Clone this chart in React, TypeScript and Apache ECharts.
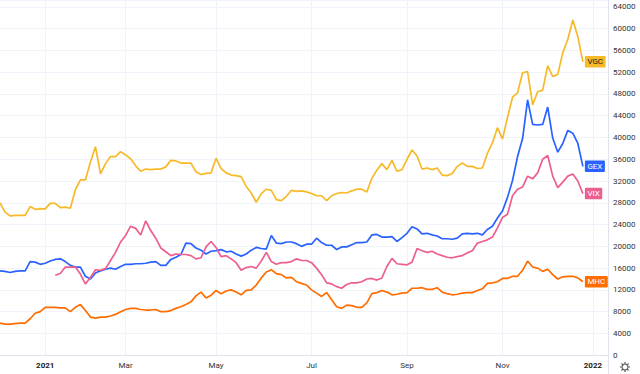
import React, { useEffect, useRef } from "react";
import * as echarts from "echarts";

// ---- data ----
const CATEGORY_COUNT = 122;
const tickIndex = [9, 25, 43, 62, 81, 100, 118];
const tickDates = ["2021-01-01", "2021-03-01", "2021-05-01", "2021-07-01", "2021-09-01", "2021-11-01", "2022-01-01"];
const tickLabels = ["2021", "Mar", "May", "Jul", "Sep", "Nov", "2022"];

const VGC = [28000,26300,25600,25700,25700,25700,27300,26800,26900,26900,
 27900,27900,27100,27200,27000,30400,32200,32200,35500,38300,
 33300,35200,36500,36500,37400,36800,36100,34800,33800,34200,
 34100,34200,34200,34600,35800,35700,35300,35300,35300,33700,
 33200,33400,33500,36200,34300,33500,33100,33000,32800,31000,
 29800,28100,29700,30500,30300,28600,28400,29200,30300,30100,
 30200,30000,29700,29300,29300,28400,29300,29700,29900,29800,
 30200,30500,30500,30000,32500,34000,35200,34100,35800,33800,
 34100,36000,37700,36600,34200,34400,34100,34400,33100,33000,
 33400,34700,35300,34700,34700,34300,34400,37100,39000,41800,
 39700,43700,47400,48200,51900,52100,46000,48400,48700,53200,
 51200,51600,55600,58000,61600,58500,53900];

const GEX = [15500,15400,15200,15400,15500,15500,17200,17100,16700,16900,
 17300,17600,17700,17200,16500,16200,16200,14500,14000,15100,
 15500,15800,16000,15800,16300,16700,16700,16800,16800,16900,
 17100,17200,16500,16500,17600,18000,18500,20600,20500,19700,
 19300,18600,19100,19200,19400,19000,19100,18600,18200,18600,
 19300,19800,19600,19500,22000,20600,20500,20800,20800,20500,
 20000,20400,20400,21500,20700,20200,20200,19400,19900,19900,
 20300,20700,20700,20800,22100,22200,21700,21700,21800,20900,
 21600,22400,23600,23200,22300,22400,22100,21900,21400,21400,
 21300,21500,22300,22400,22300,22400,22100,23100,23700,25200,
 26500,29000,32100,36500,39800,46900,42400,42300,42400,45600,
 39900,37300,38900,41300,40800,38900,34700];

const VIX = [null,null,null,null,null,null,null,null,null,null,null,
 14700,15000,16200,16200,16200,14900,13100,14300,15700,
 15600,15900,17400,18900,20800,22000,23700,23300,22100,24700,
 22900,21500,19700,19000,18300,18600,18500,18500,18300,17700,
 17900,19900,20900,19800,18100,18300,17700,17000,15600,16100,
 16300,16000,17300,18900,17200,16700,17000,17000,17200,17700,
 17400,17400,17000,16000,14800,13300,13100,12600,12300,13000,
 13300,13300,13500,14000,14100,13800,14200,16300,17800,16800,
 16700,16600,17100,19600,19200,18900,19100,18600,18300,18000,
 17900,18100,18300,18800,19200,20600,20900,21200,21700,23400,
 25300,25900,29300,30500,30900,32900,32400,33500,36000,36700,
 32900,30800,31800,32900,33300,32000,29700];

const MHC = [5900,5700,5700,5800,5900,5900,6700,7700,8000,8800,
 8800,8800,8700,8700,8000,8800,9300,8200,7000,6800,
 7000,7000,7200,7500,8000,8400,8600,8600,8400,8300,
 8300,8400,8000,8000,8200,8600,8900,9300,9800,10900,
 11600,10500,11000,11900,11300,11800,12000,11600,11100,11900,
 12000,12900,14200,15300,15700,15000,14800,14200,14300,13500,
 13200,12900,12000,11400,10800,11500,10200,8900,8600,9200,
 9100,8800,8800,9600,11300,11500,11900,11600,11100,11200,
 11400,11500,12300,12300,12400,12100,12100,12400,11600,11300,
 11100,11200,11400,11500,11500,11900,12200,13200,13300,13500,
 14100,14100,14500,14500,15600,17300,16200,16000,15400,15800,
 14800,14000,14400,14500,14500,14200,13500];

const seriesNames = ["VGC", "GEX", "VIX", "MHC"];
const seriesColors = ["#f7b928", "#2962ff", "#ec5f8f", "#ff6d00"];
const tagTextColors = ["#1a1a1a", "#ffffff", "#ffffff", "#ffffff"];
const yMax = 65265;
const yInterval = 4000;

// build category dates between the month anchors
function buildDates(): string[] {
  const DAY = 86400000;
  const t = tickDates.map((d) => Date.parse(d + "T00:00:00Z"));
  const out: string[] = [];
  for (let i = 0; i < CATEGORY_COUNT; i++) {
    let k = 0;
    while (k < tickIndex.length - 2 && i > tickIndex[k + 1]) k++;
    const i0 = tickIndex[k], i1 = tickIndex[k + 1];
    const ms = t[k] + ((i - i0) / (i1 - i0)) * (t[k + 1] - t[k]);
    const d = new Date(Math.round(ms / DAY) * DAY);
    out.push(d.toISOString().slice(0, 10));
  }
  return out;
}

const FONT = "Roboto, 'Liberation Sans', sans-serif";

export default function App() {
  const ref = useRef<HTMLDivElement>(null);
  useEffect(() => {
    document.body.style.margin = "0";
    if (!ref.current) return;
    const chart = echarts.init(ref.current, undefined, { renderer: "svg" });
    const dates = buildDates();
    const labelMap: Record<string, string> = {};
    tickIndex.forEach((idx, k) => { labelMap[dates[idx]] = tickLabels[k]; });
    const isTick = (index: number) => tickIndex.indexOf(index) >= 0;
    const dataList = [VGC, GEX, VIX, MHC];

    const gearLines: any[] = [];
    for (let a = 0; a < 8; a++) {
      const ang = (a * Math.PI) / 4;
      gearLines.push({
        type: "line",
        shape: { x1: 625 + 3.3 * Math.cos(ang), y1: 367 + 3.3 * Math.sin(ang), x2: 625 + 5 * Math.cos(ang), y2: 367 + 5 * Math.sin(ang) },
        style: { stroke: "#555", lineWidth: 1.2 },
      });
    }

    chart.setOption({
      animation: false,
      backgroundColor: "#ffffff",
      grid: { left: 0, right: 32, top: 0, bottom: 18.8, containLabel: false },
      xAxis: {
        type: "category",
        data: dates,
        boundaryGap: false,
        offset: 1.5,
        axisLine: { show: true, lineStyle: { color: "#e0e3eb", width: 1 } },
        axisTick: { show: false },
        axisLabel: {
          interval: (index: number) => isTick(index),
          formatter: (value: string) => {
            const l = labelMap[value] || "";
            return /^\d{4}$/.test(l) ? "{y|" + l + "}" : l;
          },
          fontSize: 8,
          fontFamily: FONT,
          color: "#333",
          margin: 5,
          rich: { y: { fontWeight: "bold", fontSize: 8, fontFamily: FONT, color: "#222" } },
        },
        splitLine: { show: true, interval: (index: number) => isTick(index), lineStyle: { color: "#f0f3fa", width: 1 } },
      },
      yAxis: {
        type: "value",
        position: "right",
        min: 0,
        max: yMax,
        interval: yInterval,
        axisLine: { show: true, lineStyle: { color: "#e0e3eb", width: 1 } },
        axisTick: { show: false },
        axisLabel: {
          fontSize: 8,
          fontFamily: FONT,
          color: "#333",
          margin: 5,
          showMaxLabel: false,
          formatter: (v: number) => String(Math.round(v)),
        },
        splitLine: { show: true, lineStyle: { color: "#f0f3fa", width: 1 } },
      },
      series: seriesNames.map((name, k) => ({
        name,
        type: "line",
        data: dataList[k],
        showSymbol: false,
        symbol: "none",
        lineStyle: { color: seriesColors[k], width: 1.7 },
        itemStyle: { color: seriesColors[k] },
        endLabel: {
          show: true,
          formatter: "{a}",
          distance: 2,
          fontSize: 8,
          fontFamily: FONT,
          color: tagTextColors[k],
          backgroundColor: seriesColors[k],
          padding: [2, 2.5, 1.5, 2.5],
          borderRadius: 1,
        },
        z: 2 + k,
      })),
      graphic: [
        { type: "line", shape: { x1: 608.5, y1: 355, x2: 608.5, y2: 374 }, style: { stroke: "#e0e3eb", lineWidth: 1 } },
        { type: "circle", shape: { cx: 625, cy: 367, r: 3 }, style: { fill: "none", stroke: "#555", lineWidth: 1.1 } },
        ...gearLines,
      ],
    });
    return () => chart.dispose();
  }, []);
  return <div ref={ref} style={{ position: "absolute", left: 0, top: 0, width: 640, height: 374 }} />;
}
